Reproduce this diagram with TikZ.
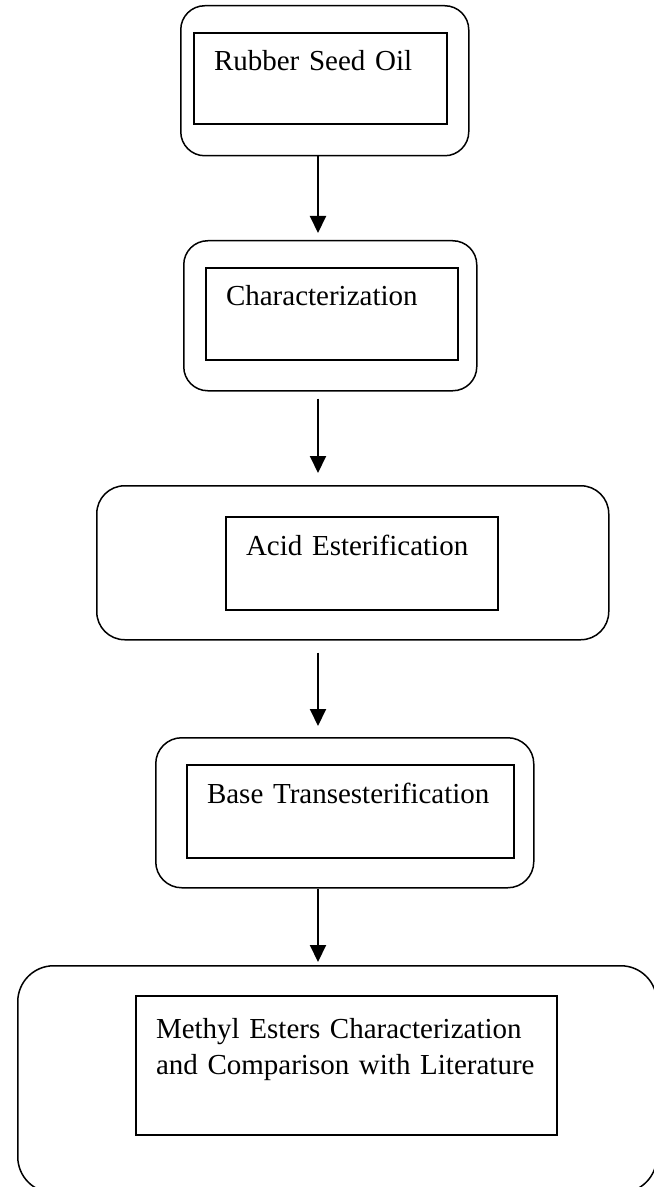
\documentclass[tikz,border=0pt]{standalone}
\usepackage{fontspec}
\setmainfont{Liberation Serif}
\usepackage{tikz}
\usetikzlibrary{arrows.meta,positioning}

\begin{document}
\begin{tikzpicture}[
    x=0.5pt, y=-0.5pt,
    font=\fontsize{14.5}{18}\selectfont,
    outbox/.style={draw, rounded corners=12pt, line width=0.75pt, inner sep=0pt, anchor=north west},
    inbox/.style={draw, line width=1pt, inner xsep=10pt, inner ysep=0pt, align=left, text height=19pt, anchor=north west},
    arrow/.style={-{Triangle[width=8pt, length=8.5pt]}, line width=1pt}
]
\useasboundingbox (0,0) rectangle (653,1187);

% outer rounded frames
\node[outbox, minimum width=144pt, minimum height=75pt] (o1) at (180,5) {};
\node[outbox, minimum width=146.5pt, minimum height=75pt] (o2) at (183,240) {};
\node[outbox, rounded corners=14pt, minimum width=256pt, minimum height=77pt] (o3) at (96,485) {};
\node[outbox, rounded corners=13pt, minimum width=189pt, minimum height=75pt] (o4) at (155,737) {};
\node[outbox, rounded corners=18pt, minimum width=319.5pt, minimum height=113.5pt] (o5) at (17,965) {};

% inner boxes with the step names
\node[inbox, text width=106.5pt, text depth=26.5pt] (i1) at (193,32) {Rubber Seed Oil};
\node[inbox, text width=106pt, text depth=27pt] (i2) at (205,267) {Characterization};
\node[inbox, text width=116pt, text depth=27.5pt] (i3) at (225,516) {Acid Esterification};
\node[inbox, text width=143.5pt, text depth=27.5pt] (i4) at (186,764) {Base Transesterification};
\node[inbox, text width=190.5pt, text height=21pt, text depth=48.5pt] (i5) at (135,995) {Methyl Esters Characterization\\and Comparison with Literature};

\coordinate (spine) at (318,0);

\draw[arrow, shorten >=3.5pt] (o1.south -| spine) -- (o2.north -| spine);
\draw[arrow, shorten <=3.5pt, shorten >=6pt] (o2.south -| spine) -- (o3.north -| spine);
\draw[arrow, shorten <=6pt, shorten >=5.5pt] (o3.south -| spine) -- (o4.north -| spine);
\draw[arrow, shorten >=1.5pt] (o4.south -| spine) -- (o5.north -| spine);

\end{tikzpicture}
\end{document}
